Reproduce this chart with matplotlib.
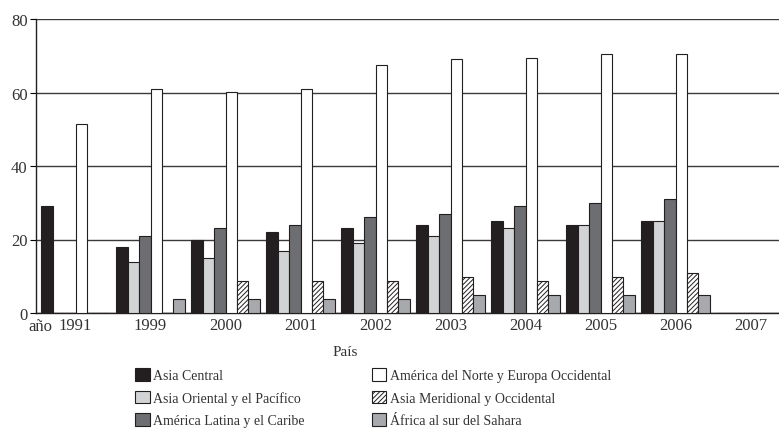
import matplotlib
matplotlib.use("Agg")
import matplotlib.pyplot as plt
import numpy as np

years = ["1991", "1999", "2000", "2001", "2002", "2003", "2004", "2005", "2006", "2007"]
series_names = [
    "Asia Central",
    "Asia Oriental y el Pacífico",
    "América Latina y el Caribe",
    "América del Norte y Europa Occidental",
    "Asia Meridional y Occidental",
    "África al sur del Sahara",
]
asia_central = [29, 18, 20, 22, 23, 24, 25, 24, 25, 0]
asia_oriental = [0, 14, 15, 17, 19, 21, 23, 24, 25, 0]
america_latina = [0, 21, 23, 24, 26, 27, 29, 30, 31, 0]
america_norte = [51.3, 61, 60.2, 61, 67.4, 69.1, 69.3, 70.5, 70.5, 0]
asia_meridional = [0, 0, 8.8, 8.8, 8.8, 9.7, 8.6, 9.7, 10.8, 0]
africa = [0, 3.8, 3.8, 3.8, 3.8, 4.9, 5.0, 4.9, 4.9, 0]
yticks = [0, 20, 40, 60, 80]

values = [asia_central, asia_oriental, america_latina, america_norte, asia_meridional, africa]
colors = ["#231f20", "#d1d3d4", "#6d6e71", "#ffffff", "#ffffff", "#a7a9ac"]
hatches = [None, None, None, None, "///////", None]

plt.rcParams["font.family"] = ["Liberation Serif", "DejaVu Serif"]
plt.rcParams["hatch.linewidth"] = 0.7

fig = plt.figure(figsize=(7.79, 4.31), dpi=100)
ax = fig.add_axes([36 / 779, (431 - 314) / 431, 1 - 36 / 779, (314 - 20) / 431])

x = np.arange(len(years))
w = 0.153
for k, (vals, c, h, name) in enumerate(zip(values, colors, hatches, series_names)):
    ax.bar(x + (k - 2.5) * w, vals, width=w, color=c, edgecolor="#231f20",
           linewidth=0.8, hatch=h, label=name, zorder=3)

ax.set_xlim(-0.527, 9.38)
ax.set_ylim(0, 80)
ax.set_yticks(yticks)
ax.yaxis.grid(True, color="#3a3a3a", linewidth=1.0, zorder=0)
ax.set_axisbelow(True)
ax.set_xticks(x)
ax.set_xticklabels(years, fontsize=12, color="#333333")
ax.tick_params(axis="x", length=0, pad=3)
ax.tick_params(axis="y", length=4, width=0.8, labelsize=12, labelcolor="#333333", pad=2)
for s in ["top", "right"]:
    ax.spines[s].set_visible(False)
ax.spines["left"].set_color("#231f20")
ax.spines["bottom"].set_color("#231f20")
ax.spines["left"].set_linewidth(1.0)
ax.spines["bottom"].set_linewidth(1.0)

fig.text(40 / 779, 1 - 327 / 431, "año", fontsize=12, color="#333333", ha="center", va="center")
fig.text(345 / 779, 1 - 353 / 431, "País", fontsize=11, color="#333333", ha="center", va="center")

leg = fig.legend(loc="upper left", bbox_to_anchor=(135 / 779, 1 - 369 / 431), ncol=2,
                 frameon=False, fontsize=10, handlelength=1.05, handleheight=1.05,
                 handletextpad=0.25, columnspacing=4.85, labelspacing=0.6,
                 borderaxespad=0, borderpad=0)
for t in leg.get_texts():
    t.set_color("#333333")

fig.savefig("out.png", dpi=100)
